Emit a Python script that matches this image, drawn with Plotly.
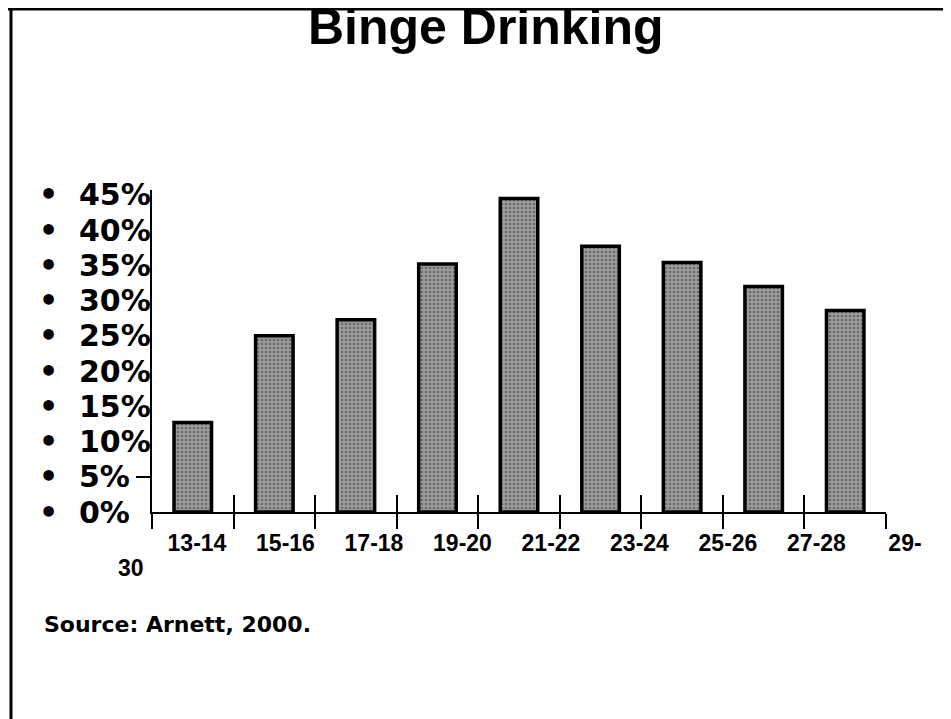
import plotly.graph_objects as go

# ---- data ----
age_groups = ["13-14", "15-16", "17-18", "19-20", "21-22", "23-24", "25-26", "27-28", "29-30"]
binge_pct = [12.7, 25.0, 27.3, 35.2, 44.5, 37.7, 35.4, 32.0, 28.6]
y_tick_values = [0, 5, 10, 15, 20, 25, 30, 35, 40, 45]
y_tick_labels = ["0%", "5%", "10%", "15%", "20%", "25%", "30%", "35%", "40%", "45%"]
x_tick_labels = ["13-14", "15-16", "17-18", "19-20", "21-22", "23-24", "25-26", "27-28", "29-"]
title_text = "Binge Drinking"
source_text = "Source: Arnett, 2000."

W, H = 951, 719
OFF = 8  # page offset of the figure (body margin)
# plot area, in page pixels
PX_LEFT, PX_TOP, PX_BOTTOM, PX_AXIS_RIGHT = 152, 190, 512, 886
L = PX_LEFT - OFF
T = PX_TOP - OFF
B = H - (PX_BOTTOM - OFF)
R = 0
PW, PH = W - L - R, H - T - B


def fx(p):
    """page x pixel -> paper fraction"""
    return (p - OFF - L) / PW


def fy(p):
    """page y pixel -> paper fraction"""
    return (H - B - (p - OFF)) / PH


n = len(age_groups)
fig = go.Figure()
fig.add_trace(go.Bar(
    x=age_groups, y=binge_pct, width=0.46, xaxis="x", yaxis="y",
    marker=dict(color="#8c8c8c", line=dict(color="black", width=3.5),
                pattern=dict(shape=".", fgcolor="#3a3a3a", bgcolor="#9c9c9c", size=4, solidity=0.35)),
    showlegend=False, hoverinfo="x+y",
))
# invisible helpers so that the extra axes are drawn
fig.add_trace(go.Scatter(x=age_groups, y=binge_pct, xaxis="x3", yaxis="y", mode="markers",
                         marker=dict(opacity=0), hoverinfo="skip", showlegend=False))
fig.add_trace(go.Scatter(x=list(range(len(x_tick_labels))), y=[0] * len(x_tick_labels), xaxis="x2", yaxis="y",
                         mode="markers", marker=dict(opacity=0), hoverinfo="skip", showlegend=False))

xdom = [0, fx(PX_AXIS_RIGHT)]
lab_step = 88.5  # px between the slide's category labels
fig.update_layout(
    width=W, height=H, autosize=False,
    margin=dict(l=L, r=R, t=T, b=B),
    paper_bgcolor="white", plot_bgcolor="rgba(0,0,0,0)",
    showlegend=False,
    xaxis=dict(domain=xdom, type="category", range=[-0.5, n - 0.5], showline=True, linecolor="black", linewidth=2,
               ticks="outside", tickson="boundaries", ticklen=15, tickwidth=2, tickcolor="black",
               showticklabels=False, showgrid=False, zeroline=False),
    xaxis3=dict(domain=xdom, type="category", overlaying="x", anchor="y", categoryorder="array",
                categoryarray=age_groups, range=[-0.5, n - 0.5], showline=False, ticks="inside",
                tickson="boundaries", ticklen=17, tickwidth=2, tickcolor="black", showticklabels=False,
                showgrid=False, zeroline=False),
    xaxis2=dict(domain=[0, 1], anchor="y", range=[-0.508, -0.508 + PW / lab_step], tickmode="array",
                tickvals=list(range(len(x_tick_labels))), ticktext=x_tick_labels, ticks="",
                ticklabelstandoff=15, showline=False, showgrid=False, zeroline=False,
                tickfont=dict(family="Liberation Sans, Arial", size=23, color="black", weight="bold")),
    yaxis=dict(range=[0, 45.7], showline=True, linecolor="black", linewidth=2, showgrid=False,
               zeroline=False, tickmode="array", tickvals=[5], ticks="outside", ticklen=14,
               tickwidth=1.5, tickcolor="black", showticklabels=False),
)

# y tick labels as bulleted text (left aligned like the slide)
for v, lab in zip(y_tick_values, y_tick_labels):
    fig.add_annotation(x=fx(48), xref="paper", y=v, yref="y", text="•", showarrow=False,
                       xanchor="center", yanchor="middle",
                       font=dict(family="DejaVu Sans", size=30, color="black", weight="bold"))
    fig.add_annotation(x=fx(77), xref="paper", y=v, yref="y", text=lab, showarrow=False,
                       xanchor="left", yanchor="middle",
                       font=dict(family="DejaVu Sans", size=30, color="black", weight="bold"))

# wrapped remainder of last category label
fig.add_annotation(x=fx(131), xref="paper", y=fy(568), yref="paper", text="30", showarrow=False,
                   xanchor="center", yanchor="middle",
                   font=dict(family="Liberation Sans, Arial", size=23, color="black", weight="bold"))

# title
fig.add_annotation(x=fx(486), xref="paper", y=fy(27), yref="paper", text=title_text, showarrow=False,
                   xanchor="center", yanchor="middle",
                   font=dict(family="Liberation Sans, Arial", size=50, color="black", weight="bold"))

# source
fig.add_annotation(x=fx(42), xref="paper", y=fy(624), yref="paper", text=source_text, showarrow=False,
                   xanchor="left", yanchor="middle",
                   font=dict(family="DejaVu Sans", size=22, color="black", weight="bold"))

# slide border (top and left)
fig.add_shape(type="line", xref="paper", yref="paper", x0=fx(0), x1=fx(W + OFF), y0=fy(9), y1=fy(9),
              line=dict(color="black", width=3))
fig.add_shape(type="line", xref="paper", yref="paper", x0=fx(11), x1=fx(11), y0=fy(H + OFF), y1=fy(9),
              line=dict(color="black", width=3))

fig.write_html("out.html")
